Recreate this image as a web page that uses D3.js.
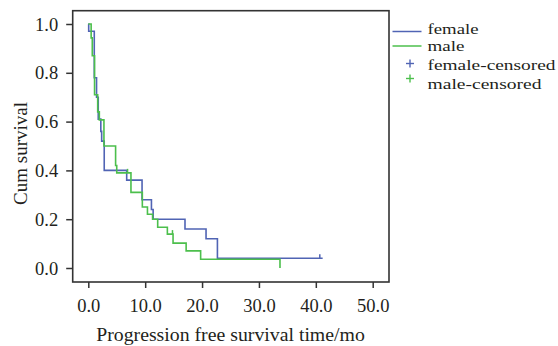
<!DOCTYPE html>
<html><head><meta charset="utf-8">
<script src="https://cdn.jsdelivr.net/npm/d3@7"></script>
<style>html,body{margin:0;padding:0;background:#fff;}svg{display:block;}</style>
</head><body>
<script>
// ---- data ----
const femaleTime = [0, 0.07, 1.05, 1.45, 1.75, 2.2, 2.35, 2.8, 6.75, 9.45, 11.1, 11.4, 17.0, 20.7, 22.7, 41.2];
const femaleSurv = [1.0, 0.97, 0.78, 0.70, 0.61, 0.56, 0.52, 0.40, 0.36, 0.28, 0.24, 0.20, 0.16, 0.12, 0.04, 0.04];
const maleTime = [0, 0.5, 0.7, 1.1, 1.65, 1.94, 2.75, 4.8, 5.0, 7.5, 9.5, 10.4, 11.3, 12.2, 13.9, 14.9, 17.2, 19.75, 33.7];
const maleSurv = [1.0, 0.943, 0.87, 0.71, 0.64, 0.607, 0.50, 0.42, 0.39, 0.31, 0.25, 0.22, 0.20, 0.167, 0.139, 0.102, 0.07, 0.036, 0];
const femaleCensorTime = [40.7];
const femaleCensorSurv = [0.04];
const maleCensorTime = [6.9, 14.8];
const maleCensorSurv = [0.39, 0.139];
const xTicks = [0, 10, 20, 30, 40, 50];
const yTicks = [0, 0.2, 0.4, 0.6, 0.8, 1.0];
const legendLabels = ["female", "male", "female-censored", "male-censored"];
const xTitle = "Progression free survival time/mo";
const yTitle = "Cum survival";

const W = 558, H = 346;
const blue = "#5064b4", green = "#4cbf4c";
const ink = "#231f20";
const font = "'Liberation Serif', 'Times New Roman', serif";

const svg = d3.select("body").append("svg").attr("width", W).attr("height", H);

const frame = {l: 72.7, r: 389, t: 10.7, b: 282};
const x = d3.scaleLinear().domain([0, 50]).range([88.3, 372.7]);
const y = d3.scaleLinear().domain([0, 1]).range([268, 24]);

// frame
svg.append("rect").attr("x", frame.l).attr("y", frame.t)
  .attr("width", frame.r - frame.l).attr("height", frame.b - frame.t)
  .attr("fill", "none").attr("stroke", "#333").attr("stroke-width", 1.6);

// x axis
const xAxis = svg.append("g").attr("transform", `translate(0,${frame.b})`)
  .call(d3.axisBottom(x).tickValues(xTicks).tickSize(6).tickFormat(d3.format(".1f")));
xAxis.select(".domain").remove();
xAxis.selectAll("line").attr("stroke", "#333").attr("stroke-width", 1.5);
xAxis.selectAll("text").attr("font-family", font).attr("font-size", 18.5).attr("fill", ink)
  .attr("dy", null).attr("y", 29.5);

// y axis
const yAxis = svg.append("g").attr("transform", `translate(${frame.l},0)`)
  .call(d3.axisLeft(y).tickValues(yTicks).tickSize(6.5).tickFormat(d3.format(".1f")));
yAxis.select(".domain").remove();
yAxis.selectAll("line").attr("stroke", "#333").attr("stroke-width", 1.5);
yAxis.selectAll("text").attr("font-family", font).attr("font-size", 18.5).attr("fill", ink)
  .attr("x", -14.5).attr("dy", "0.33em");

// titles
svg.append("text").attr("x", 230.5).attr("y", 340.5).attr("text-anchor", "middle")
  .attr("font-family", font).attr("font-size", 19.8).attr("fill", ink).text(xTitle);
svg.append("text").attr("transform", "translate(27,153.5) rotate(-90)").attr("text-anchor", "middle")
  .attr("font-family", font).attr("font-size", 19).attr("fill", ink).text(yTitle);

// curves
const line = d3.line().x(d => x(d[0])).y(d => y(d[1])).curve(d3.curveStepAfter);
const femalePts = femaleTime.map((t, i) => [t, femaleSurv[i]]);
const malePts = maleTime.map((t, i) => [t, maleSurv[i]]);
svg.append("path").attr("d", line(femalePts)).attr("fill", "none")
  .attr("stroke", blue).attr("stroke-width", 1.6);
svg.append("path").attr("d", line(malePts)).attr("fill", "none")
  .attr("stroke", green).attr("stroke-width", 1.6);

// censor marks
function censors(ts, ss, color) {
  svg.append("g").selectAll("line").data(ts.map((t, i) => [t, ss[i]])).join("line")
    .attr("x1", d => x(d[0])).attr("x2", d => x(d[0]))
    .attr("y1", d => y(d[1])).attr("y2", d => y(d[1]) - 4)
    .attr("stroke", color).attr("stroke-width", 1.5);
}
censors(femaleCensorTime, femaleCensorSurv, blue);
censors(maleCensorTime, maleCensorSurv, green);

// legend
const lg = svg.append("g");
const rowsY = [31.5, 46, 63.5, 78.5];
const textY = [34, 51, 70, 89];
const textW = [51, 37, 128, 114];
const colors = [blue, green, blue, green];
legendLabels.forEach((lab, i) => {
  if (i < 2) {
    lg.append("line").attr("x1", 392.5).attr("x2", 421.5).attr("y1", rowsY[i]).attr("y2", rowsY[i])
      .attr("stroke", colors[i]).attr("stroke-width", 1.5);
  } else {
    lg.append("line").attr("x1", 406).attr("x2", 414).attr("y1", rowsY[i]).attr("y2", rowsY[i])
      .attr("stroke", colors[i]).attr("stroke-width", 1.4);
    lg.append("line").attr("x1", 410).attr("x2", 410).attr("y1", rowsY[i] - 4).attr("y2", rowsY[i] + 4)
      .attr("stroke", colors[i]).attr("stroke-width", 1.4);
  }
  lg.append("text").attr("x", 427.5).attr("y", textY[i])
    .attr("font-family", font).attr("font-size", 14.5).attr("fill", ink)
    .attr("textLength", textW[i]).attr("lengthAdjust", "spacingAndGlyphs").text(lab);
});
</script>
</body></html>
